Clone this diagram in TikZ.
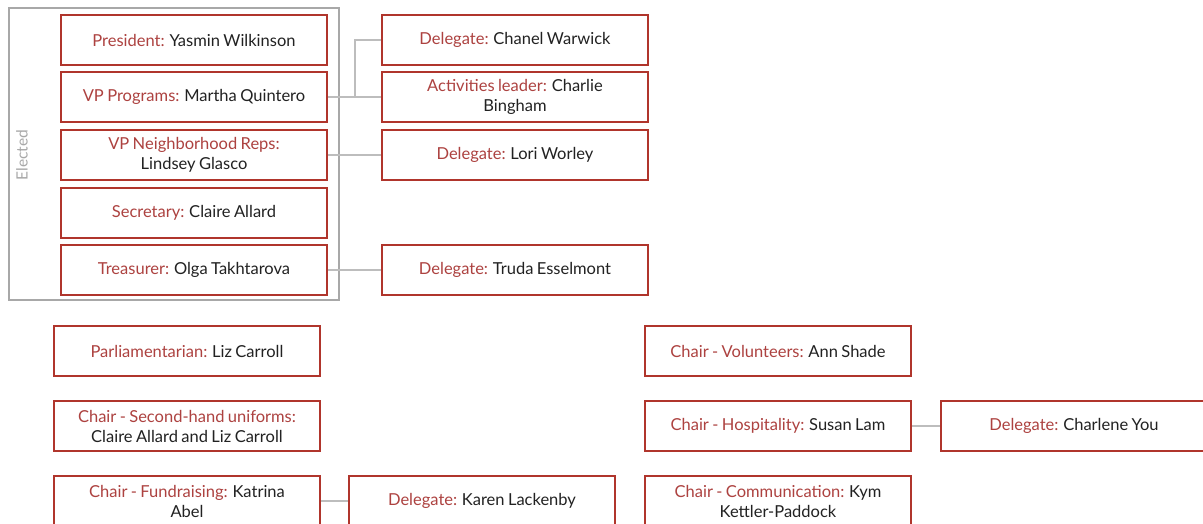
\documentclass[tikz,border=0pt]{standalone}
\usepackage{fontspec}
\setmainfont{Lato}[WordSpace=0.8]
\definecolor{boxred}{HTML}{B0352C}
\definecolor{labred}{HTML}{AD4240}
\definecolor{namec}{HTML}{222222}
\definecolor{linegray}{HTML}{BDBDBD}
\definecolor{groupgray}{HTML}{A8A8A8}
\tikzset{
  role/.style={draw=boxred, line width=2pt, fill=white, minimum width=266pt, minimum height=50pt, inner sep=0pt, align=center, font=\fontsize{16.5}{20}\selectfont, text=namec},
  link/.style={draw=linegray, line width=1.5pt},
}
\newcommand{\lab}[1]{\textcolor{labred}{#1}}
\begin{document}
\begin{tikzpicture}[x=1pt,y=-1pt]
\useasboundingbox (0,0) rectangle (1203,523);
\fill[white] (0,0) rectangle (1203,523);
% group
\draw[groupgray, line width=2pt] (9,8) rectangle (339,300);
\node[rotate=90, text=groupgray, font=\fontsize{15.5}{18}\selectfont] (elected) at (22,155) {Elected};
% left column
\node[role] (pres) at (194,40) {\lab{President:} Yasmin Wilkinson};
\node[role] (vpp) at (194,97) {\lab{VP Programs:} Martha Quintero};
\node[role] (vpn) at (194,155) {\lab{VP Neighborhood Reps:}\\Lindsey Glasco};
\node[role] (sec) at (194,213) {\lab{Secretary:} Claire Allard};
\node[role] (tre) at (194,270) {\lab{Treasurer:} Olga Takhtarova};
% right column
\node[role] (d1) at (515,40) {\lab{Delegate:} Chanel Warwick};
\node[role] (act) at (515,97) {\lab{Activities leader:} Charlie\\Bingham};
\node[role] (d2) at (515,155) {\lab{Delegate:} Lori Worley};
\node[role] (d3) at (515,270) {\lab{Delegate:} Truda Esselmont};
% bottom left
\node[role] (parl) at (187,351) {\lab{Parliamentarian:} Liz Carroll};
\node[role] (shu) at (187,426) {\lab{Chair - Second-hand uniforms:}\\Claire Allard and Liz Carroll};
\node[role] (fund) at (187,501) {\lab{Chair - Fundraising:} Katrina\\Abel};
\node[role] (d4) at (482,501) {\lab{Delegate:} Karen Lackenby};
% bottom right
\node[role] (vol) at (778,351) {\lab{Chair - Volunteers:} Ann Shade};
\node[role] (hosp) at (778,426) {\lab{Chair - Hospitality:} Susan Lam};
\node[role] (comm) at (778,501) {\lab{Chair - Communication:} Kym\\Kettler-Paddock};
\node[role] (d5) at (1074,426) {\lab{Delegate:} Charlene You};
% connectors
\coordinate (j1) at (355,97);
\draw[link] (vpp.east) -- (j1) |- (d1.west);
\draw[link] (j1) -- (act.west);
\draw[link] (vpn.east) -- (d2.west);
\draw[link] (tre.east) -- (d3.west);
\draw[link] (fund.east) -- (d4.west);
\draw[link] (hosp.east) -- (d5.west);
\end{tikzpicture}
\end{document}
